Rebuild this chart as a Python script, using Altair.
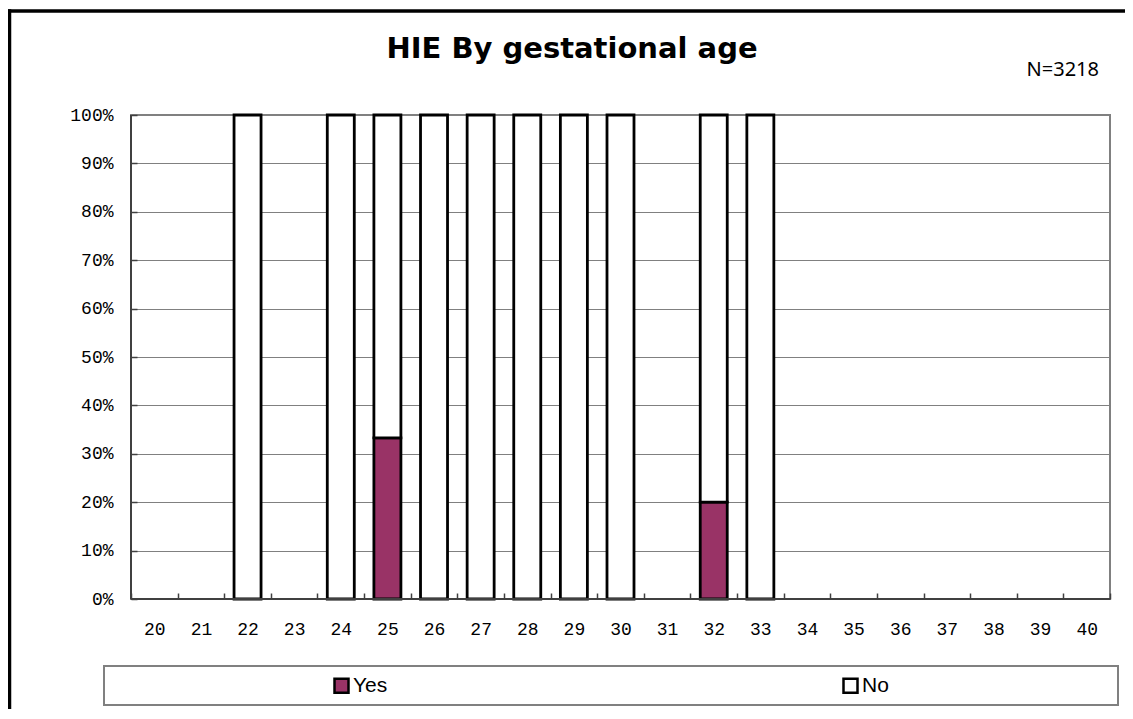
import altair as alt
import pandas as pd

# ---- data ----
ages = [str(a) for a in range(20, 41)]
yes_pct = [None, None, 0, None, 0, 33.3, 0, 0, 0, 0, 0, None, 20, 0,
           None, None, None, None, None, None, None]
no_pct = [None, None, 100, None, 100, 66.7, 100, 100, 100, 100, 100, None, 80, 100,
          None, None, None, None, None, None, None]
series = ["Yes", "No"]
series_colors = ["#993366", "#ffffff"]
title_text = "HIE By gestational age"
n_text = "N=3218"
y_ticks = [0, 0.1, 0.2, 0.3, 0.4, 0.5, 0.6, 0.7, 0.8, 0.9, 1.0]

rows = []
for age, y, n in zip(ages, yes_pct, no_pct):
    for k, (name, v) in enumerate(zip(series, [y, n])):
        if v is not None and v > 0:
            rows.append({"age": age, "series": name, "pct": v / 100.0, "ord": k})
df = pd.DataFrame(rows)

W, H = 979, 484
MONO = "Liberation Mono"

bars = alt.Chart(df).mark_bar(size=27, stroke="black", strokeWidth=2.8).encode(
    x=alt.X("age:O", sort=ages,
            scale=alt.Scale(domain=ages, paddingInner=0, paddingOuter=0),
            axis=alt.Axis(title=None, labelAngle=0, domain=False, grid=False,
                          tickBand="extent", tickSize=6, offset=-6, tickColor="#404040",
                          tickWidth=1.5, labelFont=MONO, labelFontSize=18,
                          labelColor="#000000", labelPadding=21)),
    y=alt.Y("pct:Q", stack="zero", scale=alt.Scale(domain=[0, 1], nice=False),
            axis=alt.Axis(title=None, values=y_ticks, format=".0%", domain=False,
                          grid=True, gridColor="#808080", gridWidth=1,
                          tickSize=6, offset=-6, tickColor="#404040", tickWidth=1.5,
                          labelFont=MONO, labelFontSize=18, labelColor="#000000",
                          labelPadding=18)),
    color=alt.Color("series:N",
                    scale=alt.Scale(domain=series, range=series_colors),
                    legend=alt.Legend(title=None, orient="none", legendX=200, legendY=560,
                                      direction="horizontal", columns=2, columnPadding=450,
                                      symbolType="square", symbolSize=196,
                                      symbolStrokeColor="black", symbolStrokeWidth=2.5,
                                      symbolOpacity=1,
                                      labelFont="Liberation Sans Narrow, Liberation Sans",
                                      labelFontSize=21, labelColor="#000000",
                                      labelOffset=1, padding=0)),
    order=alt.Order("ord:Q"),
)

one = pd.DataFrame({"a": [0]})

outer_left = alt.Chart(one).mark_rule(color="black", strokeWidth=3.5).encode(
    x=alt.value(-121.5), y=alt.value(-105.75), y2=alt.value(800))
outer_top = alt.Chart(one).mark_rule(color="black", strokeWidth=3.5).encode(
    x=alt.value(-123.25), x2=alt.value(1300), y=alt.value(-104))

legend_box = alt.Chart(one).mark_rect(fillOpacity=0, stroke="#808080", strokeWidth=2).encode(
    x=alt.value(-27), x2=alt.value(987), y=alt.value(551), y2=alt.value(590))

bottom_line = alt.Chart(one).mark_rule(color="#404040", strokeWidth=2).encode(
    y=alt.datum(0))
left_line = alt.Chart(one).mark_rule(color="#404040", strokeWidth=2).encode(
    x=alt.value(0), y=alt.value(0), y2=alt.value(H))

title = alt.Chart(pd.DataFrame({"t": [title_text]})).mark_text(
    font="DejaVu Sans", fontWeight="bold", fontSize=29, align="center",
    baseline="alphabetic", color="black").encode(
    text="t:N", x=alt.value(441), y=alt.value(-57))

ntext = alt.Chart(pd.DataFrame({"t": [n_text]})).mark_text(
    font="Noto Sans", fontSize=20, align="right", baseline="alphabetic",
    color="black").encode(text="t:N", x=alt.value(968), y=alt.value(-39))

chart = alt.layer(outer_left, outer_top, legend_box, bars, bottom_line, left_line,
                  title, ntext).properties(
    width=W, height=H,
    padding={"left": 123, "top": 107, "right": 15, "bottom": 110},
    autosize=alt.AutoSizeParams(type="none"),
    background="white",
).configure_view(stroke="#808080", strokeWidth=2)

chart.save("out.html", embed_options={"renderer": "svg", "actions": False})
